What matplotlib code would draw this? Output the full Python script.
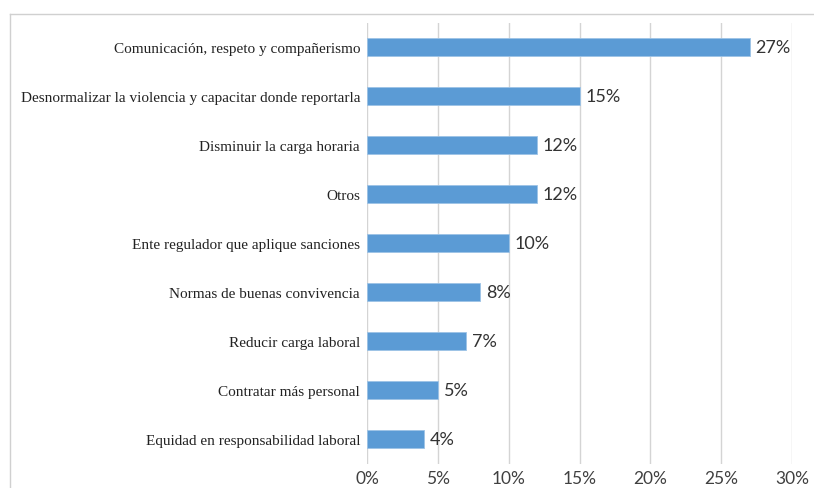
import matplotlib
matplotlib.use("Agg")
import matplotlib.pyplot as plt
from matplotlib.lines import Line2D

categories = [
    "Comunicación, respeto y compañerismo",
    "Desnormalizar la violencia y capacitar donde reportarla",
    "Disminuir la carga horaria",
    "Otros",
    "Ente regulador que aplique sanciones",
    "Normas de buenas convivencia",
    "Reducir carga laboral",
    "Contratar más personal",
    "Equidad en responsabilidad laboral",
]
values = [27, 15, 12, 12, 10, 8, 7, 5, 4]
xticks = [0, 5, 10, 15, 20, 25, 30]
xtick_labels = ["0%", "5%", "10%", "15%", "20%", "25%", "30%"]

fig = plt.figure(figsize=(8.14, 4.89), dpi=100)
ax = fig.add_axes([367/814, 1-464.5/489, (792-367)/814, (464.5-23.5)/489])

ypos = list(range(len(categories)))
ax.barh(ypos, values, height=0.35, color="#5B9BD5", edgecolor="#9DC3E6", linewidth=0.6, zorder=3)
ax.set_ylim(len(categories)-0.5, -0.5)
ax.set_xlim(0, 30)
ax.set_xticks(xticks)
ax.set_xticklabels(xtick_labels, fontfamily="Lato", fontsize=12.5, color="#404040")
ax.set_yticks(ypos)
ax.set_yticklabels(categories, fontfamily="Liberation Serif", fontsize=11, color="#222222")
ax.tick_params(axis="both", length=0)
ax.tick_params(axis="y", pad=5)
ax.tick_params(axis="x", pad=5)
ax.grid(axis="x", color="#D4D4D4", linewidth=1, zorder=0)
for s in ax.spines.values():
    s.set_visible(False)

for y, v in zip(ypos, values):
    ax.text(v + 0.4, y, f"{v}%", va="center", ha="left", fontfamily="Lato", fontsize=13, color="#333333")

# outer frame
fig.add_artist(Line2D([10/814, 10/814], [0, 1-15/489], transform=fig.transFigure, color="#D0D0D0", lw=1))
fig.add_artist(Line2D([10/814, 1], [1-15/489, 1-15/489], transform=fig.transFigure, color="#D0D0D0", lw=1))

fig.savefig("out.png", dpi=100)
